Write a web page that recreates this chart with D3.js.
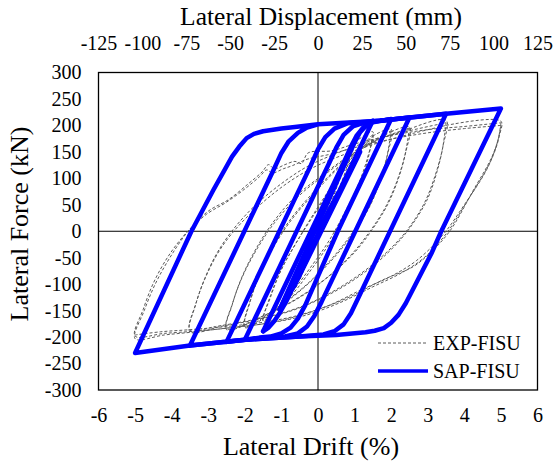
<!DOCTYPE html>
<html><head><meta charset="utf-8">
<script src="https://cdn.jsdelivr.net/npm/d3@7"></script>
<style>
html,body{margin:0;padding:0;background:#fff;}
</style></head>
<body>
<svg id="chart" width="554" height="461"></svg>
<script>
// ---------- tick values ----------
const driftTicks = [-6,-5,-4,-3,-2,-1,0,1,2,3,4,5,6];
const dispTicks = [-125,-100,-75,-50,-25,0,25,50,75,100,125];
const forceTicks = [-300,-250,-200,-150,-100,-50,0,50,100,150,200,250,300];
const seriesNames = ["EXP-FISU","SAP-FISU"];

// ---------- EXP-FISU (test) loops : [drift %, force kN] ----------
const expC050 = [[0,0],[0.25,45],[0.5,95],[0.35,60],[0.1,15],[-0.2,-40],[-0.5,-92],[-0.35,-60],[-0.1,-15],[0.15,30],[0.5,98]];
const expC075 = [[0.5,98],[0.75,130],[0.55,90],[0.2,25],[-0.3,-60],[-0.75,-122],[-0.55,-85],[-0.15,-20],[0.3,55],[0.75,133]];
const expC100 = [[0.75,133],[1.0,165],[0.8,122],[0.45,60],[0.05,0],[-0.3,-50],[-0.65,-100],[-1.0,-150],[-0.78,-105],[-0.4,-45],[0,15],[0.4,75],[0.7,122],[1.0,168]];
const expC150a = [[1.0,168],[1.25,180],[1.5,188],[1.35,138],[1.1,88],[0.75,38],[0.3,-18],[-0.2,-68],[-0.8,-122],[-1.5,-170],[-1.3,-122],[-1.0,-72],[-0.6,-22],[-0.1,35],[0.5,98],[1.0,145],[1.5,183]];
const expC150b = [[1.5,183],[1.36,135],[1.12,85],[0.78,33],[0.32,-22],[-0.18,-72],[-0.78,-125],[-1.5,-168],[-1.3,-125],[-1.02,-75],[-0.62,-25],[-0.12,30],[0.48,92],[1.0,140],[1.5,180]];
const expC200a = [[1.5,180],[2.0,193],[1.9,145],[1.7,95],[1.4,45],[1.0,0],[0.5,-45],[-0.2,-95],[-1.0,-140],[-2.0,-182],[-1.85,-132],[-1.6,-82],[-1.25,-32],[-0.8,18],[-0.2,68],[0.5,118],[1.2,158],[2.0,190]];
const expC200b = [[2.0,190],[1.88,140],[1.66,90],[1.35,40],[0.92,-5],[0.4,-50],[-0.3,-100],[-1.1,-143],[-2.0,-180],[-1.84,-128],[-1.57,-78],[-1.2,-28],[-0.72,22],[-0.1,72],[0.6,122],[1.3,160],[2.0,188]];
const expC250a = [[2.0,188],[2.5,197],[2.4,150],[2.2,100],[1.9,50],[1.5,5],[1.0,-40],[0.3,-85],[-0.5,-125],[-1.4,-157],[-2.5,-186],[-2.35,-140],[-2.1,-90],[-1.75,-40],[-1.3,10],[-0.7,60],[0,100],[0.8,140],[1.6,172],[2.5,195]];
const expC250b = [[2.5,195],[2.38,145],[2.16,95],[1.84,45],[1.42,0],[0.9,-45],[0.2,-90],[-0.6,-128],[-1.5,-160],[-2.5,-184],[-2.33,-135],[-2.06,-85],[-1.68,-35],[-1.2,15],[-0.55,65],[0.15,105],[0.95,145],[1.7,174],[2.5,193]];
const expC350a = [[2.5,193],[3.5,210],[3.42,162],[3.25,112],[3.0,62],[2.6,15],[2.2,-20],[1.6,-60],[0.8,-100],[0,-130],[-0.8,-152],[-1.6,-166],[-2.6,-179],[-3.5,-190],[-3.35,-140],[-3.1,-90],[-2.75,-40],[-2.3,5],[-1.7,50],[-1.0,90],[-0.3,122],[0.5,147],[1.5,172],[2.5,190],[3.5,205]];
const expC350b = [[3.5,205],[3.4,155],[3.2,105],[2.92,55],[2.5,8],[2.05,-28],[1.4,-68],[0.6,-106],[-0.2,-135],[-1.0,-155],[-1.9,-169],[-2.8,-180],[-3.5,-187],[-3.33,-135],[-3.06,-85],[-2.68,-35],[-2.2,8],[-1.55,52],[-0.9,88],[-0.2,118],[0.6,142],[1.6,166],[2.6,185],[3.5,200]];
const expC500a = [[3.5,200],[5.0,208],[4.95,180],[4.75,140],[4.25,78],[3.6,0],[3.05,-42],[2.6,-67],[1.77,-92],[0.87,-124],[0,-148],[-0.8,-165],[-1.5,-175],[-2.5,-183],[-3.35,-190],[-4.2,-196],[-5,-203],[-4.75,-150],[-4.45,-100],[-4.05,-50],[-3.55,0],[-3.0,38],[-2.44,60],[-1.9,90],[-1.53,112],[-1.35,126],[-1.2,118],[-0.9,126],[-0.63,132],[-0.45,128],[-0.27,148],[0.37,152],[1,165],[2,181],[3,192],[4,198],[5,205]];
const expC500b = [[5,205],[4.93,175],[4.7,130],[4.15,65],[3.5,-5],[2.9,-50],[2.3,-78],[1.5,-105],[0.6,-135],[-0.3,-158],[-1.2,-172],[-2.2,-181],[-3.2,-188],[-4.2,-193],[-5,-198],[-4.78,-148],[-4.5,-98],[-4.1,-48],[-3.6,-3],[-3.05,32],[-2.5,55],[-2.0,80],[-1.6,103],[-1.4,116],[-1.25,110],[-0.95,118],[-0.7,124],[-0.3,136],[0.3,145],[1,158],[2,174],[3,186],[4,194],[5,200]];
const expC500c = [[5,200],[4.9,165],[4.6,115],[4.0,50],[3.4,-8],[2.7,-55],[2.0,-85],[1.2,-110],[0.3,-140],[-0.6,-160],[-1.5,-172],[-2.5,-180],[-3.5,-186],[-4.3,-190],[-5,-196]];
const expLoops = [expC050,expC075,expC100,expC150a,expC150b,expC200a,expC200b,expC250a,expC250b,expC350a,expC350b,expC500a,expC500b,expC500c];

// ---------- SAP-FISU (model) path : [drift %, force kN] ----------
const sapSmall = [[0,0],[0.55,72],[-0.4,-68],[0.85,108],[-0.65,-104],[1.1,142],[-0.95,-140],[1.15,150],[-1.05,-148]];
const sapC150 = [[-1.05,-148],[1.0,168],[1.15,187],[1.32,200],[1.5,209],[0.06,0],[-0.85,-130],[-1.05,-155],[-1.2,-170],[-1.35,-182],[-1.5,-189]];
const sapC200 = [[-1.5,-189],[0.7,129],[0.9,160],[1.05,180],[1.25,197],[1.5,206],[2.0,212],[0.54,0],[-0.35,-140],[-0.55,-165],[-0.75,-182],[-1.0,-193],[-1.3,-199],[-1.6,-201],[-2.0,-205]];
const sapC250 = [[-2.0,-205],[0.3,128],[0.5,158],[0.7,182],[0.95,198],[1.3,206],[2.0,211],[2.5,215],[1.02,0],[0.1,-133],[-0.1,-160],[-0.3,-180],[-0.55,-193],[-0.9,-199],[-1.5,-202],[-2.5,-209]];
const sapC350 = [[-2.5,-209],[-0.2,124],[0.0,155],[0.2,178],[0.45,194],[0.8,204],[1.7,209],[2.5,215],[3.5,222],[1.97,0],[1.1,-126],[0.9,-155],[0.7,-176],[0.45,-189],[0.15,-195],[-0.5,-199],[-2.0,-205],[-3.5,-216]];
const sapC500 = [[-3.5,-216],[-1.2,118],[-1.0,148],[-0.8,170],[-0.55,186],[-0.3,196],[0,202],[1.7,209],[3.5,222],[5.0,232],[3.37,0],[3.1,-42],[2.4,-136],[2.2,-158],[2.0,-173],[1.8,-183],[1.55,-188],[1.3,-191],[0.5,-196],[-0.5,-199],[-2.0,-205],[-3.5,-216],[-5.0,-230],[-3.46,0],[-2.86,78],[-2.35,141],[-2.15,160],[-1.95,176],[-1.75,184],[-1.5,189],[-1.0,194],[-0.63,197],[0,202],[1.7,209],[3.5,222],[5.0,232]];
const sapPath = [sapSmall,sapC150,sapC200,sapC250,sapC350,sapC500];

// ---------- layout ----------
const FONT = "'Liberation Serif','Tinos','Times New Roman','DejaVu Serif','Noto Serif',serif";
const L = 98.5, R = 537.5, T = 72.5, B = 390;
const svg = d3.select("#chart").attr("font-family",FONT);
const x = d3.scaleLinear().domain([-6,6]).range([L,R]);
const xTop = d3.scaleLinear().domain([-125,125]).range([L,R]);
const y = d3.scaleLinear().domain([-300,300]).range([B,T]);

const fmt = d => String(d);
const gb = svg.append("g").attr("transform",`translate(0,${B})`)
  .call(d3.axisBottom(x).tickValues(driftTicks).tickSize(0).tickPadding(18).tickFormat(fmt));
const gt = svg.append("g").attr("transform",`translate(0,${T})`)
  .call(d3.axisTop(xTop).tickValues(dispTicks).tickSize(0).tickPadding(23).tickFormat(fmt));
const gl = svg.append("g").attr("transform",`translate(${L},0)`)
  .call(d3.axisLeft(y).tickValues(forceTicks).tickSize(0).tickPadding(17).tickFormat(fmt));
[gb,gt,gl].forEach(g=>{
  g.attr("font-family",FONT).attr("font-size",20);
  g.select(".domain").remove();
  g.selectAll("text").attr("font-family",FONT).attr("font-size",20).attr("fill","#000");
});

svg.append("clipPath").attr("id","pc").append("rect")
  .attr("x",L).attr("y",T).attr("width",R-L).attr("height",B-T);
const plot = svg.append("g").attr("clip-path","url(#pc)");

// zero lines
plot.append("line").attr("x1",x(0)).attr("x2",x(0)).attr("y1",T).attr("y2",B).attr("stroke","#000").attr("stroke-width",1);
plot.append("line").attr("x1",L).attr("x2",R).attr("y1",y(0)).attr("y2",y(0)).attr("stroke","#000").attr("stroke-width",1);

const line = d3.line().x(d=>x(d[0])).y(d=>y(d[1])).curve(d3.curveCatmullRom.alpha(0.5));
const lineLin = d3.line().x(d=>x(d[0])).y(d=>y(d[1]));

plot.selectAll("path.exp").data(expLoops).join("path").attr("class","exp")
  .attr("d",line).attr("fill","none").attr("stroke","#5a5a5a").attr("stroke-width",1)
  .attr("stroke-dasharray","3,2");

plot.selectAll("path.sap").data(sapPath).join("path").attr("class","sap")
  .attr("d",lineLin).attr("fill","none").attr("stroke","#0000ff").attr("stroke-width",4.5)
  .attr("stroke-linejoin","round").attr("stroke-linecap","round");

// frame
svg.append("rect").attr("x",L).attr("y",T).attr("width",R-L).attr("height",B-T)
  .attr("fill","none").attr("stroke","#000").attr("stroke-width",1.3);

// titles
svg.append("text").attr("x",321).attr("y",24.5).attr("text-anchor","middle").attr("font-family",FONT).attr("font-size",25.5).text("Lateral Displacement (mm)");
svg.append("text").attr("x",311).attr("y",455).attr("text-anchor","middle").attr("font-family",FONT).attr("font-size",26).text("Lateral Drift (%)");
svg.append("text").attr("transform","translate(28,224) rotate(-90)").attr("text-anchor","middle").attr("font-family",FONT).attr("font-size",26).text("Lateral Force (kN)");

// legend
const lg = svg.append("g").attr("font-family",FONT);
lg.append("line").attr("x1",378).attr("x2",428).attr("y1",343).attr("y2",343)
  .attr("stroke","#5a5a5a").attr("stroke-width",1).attr("stroke-dasharray","3,2");
lg.append("text").attr("x",433).attr("y",343).attr("dy","0.35em").attr("font-size",20).text(seriesNames[0]);
lg.append("line").attr("x1",378).attr("x2",428).attr("y1",371).attr("y2",371)
  .attr("stroke","#0000ff").attr("stroke-width",3.5);
lg.append("text").attr("x",433).attr("y",371).attr("dy","0.35em").attr("font-size",20).text(seriesNames[1]);
</script>
</body></html>
